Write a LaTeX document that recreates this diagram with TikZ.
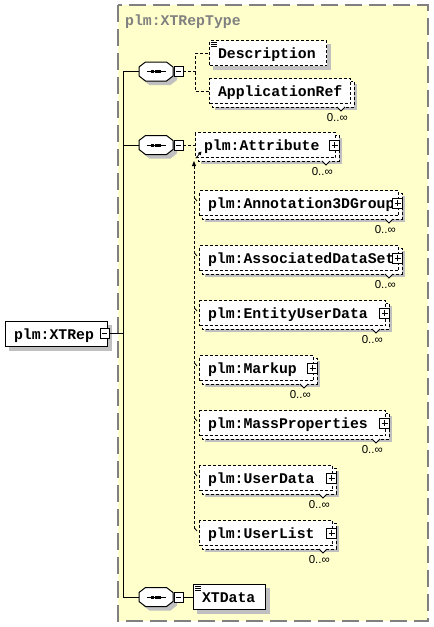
\documentclass[tikz,border=0pt]{standalone}
\usepackage{fontspec}
\setmonofont{Liberation Mono}
\setsansfont{Liberation Sans}
\usetikzlibrary{arrows.meta}
\pgfdeclarelayer{frame}
\pgfdeclarelayer{shade}
\pgfsetlayers{frame,shade,main}
\definecolor{frameyellow}{RGB}{255,255,204}
\definecolor{framegrey}{RGB}{128,128,128}
\definecolor{shgrey}{RGB}{192,192,192}
\tikzset{
  elem/.style={draw, fill=white, line width=1pt, inner sep=0pt, minimum height=25pt,
    text height=10pt, text depth=0pt, font=\ttfamily\bfseries\fontsize{14.8pt}{16pt}\selectfont},
  optel/.style={dash pattern=on 3pt off 2pt},
  conn/.style={line width=1pt},
  dconn/.style={line width=1pt, dash pattern=on 3pt off 2pt},
  card/.style={inner sep=0pt, font=\sffamily\fontsize{11.5pt}{13pt}\selectfont},
  titlestyle/.style={inner sep=0pt, text=framegrey, font=\ttfamily\bfseries\fontsize{14.8pt}{16pt}\selectfont},
  seqnode/.style={minimum width=34pt, minimum height=19pt, inner sep=0pt},
  minusbox/.style={draw, fill=white, line width=0.8pt, minimum width=9pt, minimum height=10pt, inner sep=0pt,
    path picture={\draw[line width=0.8pt] ([xshift=-2.5pt]path picture bounding box.center) -- ([xshift=2.5pt]path picture bounding box.center);}},
  plusbox/.style={draw, fill=white, line width=0.8pt, minimum width=10pt, minimum height=10pt, inner sep=0pt,
    path picture={\draw[line width=0.8pt] ([xshift=-3pt]path picture bounding box.center) -- ([xshift=3pt]path picture bounding box.center);
      \draw[line width=0.8pt] ([yshift=-3pt]path picture bounding box.center) -- ([yshift=3pt]path picture bounding box.center);}},
  framestyle/.style={draw=framegrey, fill=frameyellow, line width=1.5pt, dash pattern=on 17pt off 7pt}
}
% element node: [style]{name}{x}{y}{width}{text}
\newcommand{\element}[6][]{%
  \node[elem,#1,anchor=north west] (#2) at (#3,#4)
    {\hspace*{8.5pt}\makebox[\dimexpr#5pt-8.5pt\relax][l]{#6}};}
\newcommand{\singleshade}[1]{%
  \begin{pgfonlayer}{shade}
    \fill[shgrey] ([shift={(4,4)}]#1.north west) rectangle ([shift={(4,4)}]#1.south east);
  \end{pgfonlayer}}
\newcommand{\repshade}[1]{%
  \begin{pgfonlayer}{shade}
    \fill[shgrey] ([shift={(6,6)}]#1.north west) rectangle ([shift={(6,6)}]#1.south east);
    \draw[optel, line width=1pt, fill=white] ([shift={(3,3)}]#1.north west) rectangle ([shift={(3,3)}]#1.south east);
  \end{pgfonlayer}
  \draw[line width=0.8pt, fill=white] ([shift={(-14,3)}]#1.south east) -- ([shift={(-10,7)}]#1.south east) -- ([shift={(-6,3)}]#1.south east);
  \node[card, anchor=north east] (#1-card) at ([shift={(-3,9)}]#1.south east) {0..∞};}
\newcommand{\docicon}[1]{%
  \foreach \k in {2,4,6} {\draw[line width=0.7pt] ([shift={(2,\k)}]#1.north west) -- ++(6,0);}}
\newcommand{\subtick}[1]{%
  \draw[line width=0.8pt] ([shift={(-4.5,8)}]#1.north west) -- ([shift={(-2,11)}]#1.north west);}
\newcommand{\seqdeco}[1]{%
  \begin{scope}[shift={(#1.center)}]
    \begin{pgfonlayer}{shade}
      \fill[shgrey, shift={(4,4)}] (-10.5,-9.5) -- (10.5,-9.5) -- (17,-4.5) -- (17,4.5) -- (10.5,9.5) -- (-10.5,9.5) -- (-17,4.5) -- (-17,-4.5) -- cycle;
    \end{pgfonlayer}
    \draw[line width=1pt, fill=white] (-10.5,-9.5) -- (10.5,-9.5) -- (17,-4.5) -- (17,4.5) -- (10.5,9.5) -- (-10.5,9.5) -- (-17,4.5) -- (-17,-4.5) -- cycle;
    \draw[line width=1pt] (-9,0) -- (10,0);
    \foreach \d in {-3.5,0,3.5} {\fill (\d-1.5,-1.5) rectangle (\d+1.5,1.5);}
  \end{scope}}
\begin{document}
\begin{tikzpicture}[x=1pt, y=-1pt]
\useasboundingbox (0,0) rectangle (434,627);
\begin{pgfonlayer}{frame}
  \fill[white] (0,0) rectangle (434,627);
  \path[framestyle] (118,5) rectangle (428,621);
\end{pgfonlayer}
\node[titlestyle, anchor=base west] (title) at (125,25) {plm:XTRepType};

% main element
\element{xtr}{5}{321}{102}{plm:XTRep}
\singleshade{xtr}
\node[minusbox] (xtrm) at (104.5,333) {};

% compositors
\node[seqnode] (s1) at (156,71.5) {};
\node[seqnode] (s2) at (156,145) {};
\node[seqnode] (s3) at (156,597) {};
\seqdeco{s1}\seqdeco{s2}\seqdeco{s3}
\node[minusbox] (m1) at (178.5,71.5) {};
\node[minusbox] (m2) at (178.5,145) {};
\node[minusbox] (m3) at (178.5,597) {};

% child elements
\element[optel]{desc}{209}{40}{117}{Description}
\singleshade{desc}\docicon{desc}
\element[optel]{appref}{209}{78}{141}{ApplicationRef}
\repshade{appref}
\element[optel]{attr}{195}{132}{140}{plm:Attribute}
\repshade{attr}
\element[optel]{ann}{199}{190}{199}{plm:Annotation3DGroup}
\repshade{ann}
\element[optel]{ads}{199}{245}{199}{plm:AssociatedDataSet}
\repshade{ads}
\element[optel]{eud}{199}{300}{186}{plm:EntityUserData}
\repshade{eud}
\element[optel]{mkp}{199}{355}{114}{plm:Markup}
\repshade{mkp}
\element[optel]{mp}{199}{410}{186}{plm:MassProperties}
\repshade{mp}
\element[optel]{ud}{199}{465}{133}{plm:UserData}
\repshade{ud}
\element[optel]{ul}{199}{520}{133}{plm:UserList}
\repshade{ul}
\element{xtd}{193}{584}{72}{XTData}
\singleshade{xtd}\docicon{xtd}

\foreach \n in {attr,ann,ads,eud,mkp,mp,ud,ul} {\node[plusbox] (\n-plus) at ([xshift=-1.5pt]\n.east) {};}
\foreach \n in {ann,ads,eud,mkp,mp,ud,ul} {\subtick{\n}}

% connectors
\coordinate (vx) at (123.5,0);
\draw[conn] (s1.west) -- (s1.west -| vx) -- (s3.west -| vx) -- (s3.west);
\draw[conn] (s2.west) -- (s2.west -| vx);
\draw[conn] (xtrm.east) -- (xtrm.east -| vx);
\draw[dconn] (m1.east) -- ++(12,0) |- (desc.west);
\draw[dconn] (m1.east) ++(12,0) |- (appref.west);
\draw[dconn] (m2.east) -- (attr.west);
\draw[conn] (m3.east) -- (xtd.west);

% substitution group line
\coordinate (sgbot) at (194,529);
\coordinate (sgtop) at (194,161);
\draw[dconn, -{Triangle[length=5pt,width=4pt]}] (sgbot) -- (sgtop);
\coordinate (sga) at (196,158);
\coordinate (sgb) at (201.5,151.5);
\draw[line width=0.8pt, -{Triangle[length=3.5pt,width=3.5pt]}] (sga) -- (sgb);
\end{tikzpicture}
\end{document}
